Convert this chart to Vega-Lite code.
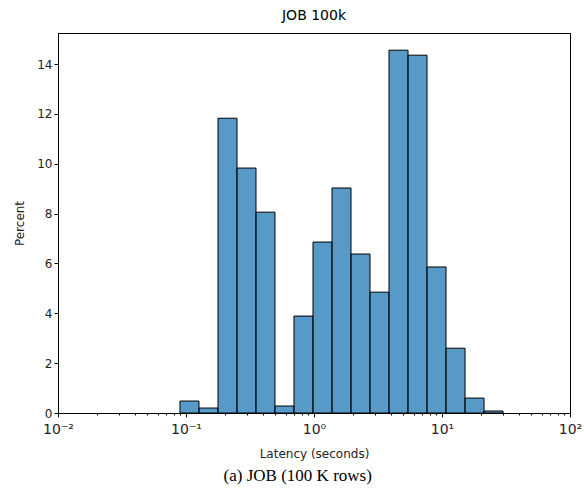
{
  "$schema": "https://vega.github.io/schema/vega-lite/v6.json",
  "background": "white",
  "padding": {"left": 13, "top": 8, "right": 10, "bottom": 5},
  "config": {"font": "DejaVu Sans", "concat": {"spacing": 0}},
  "title": {"text": "(a) JOB (100 K rows)", "orient": "bottom", "anchor": "middle", "font": "Liberation Serif", "fontSize": 17, "fontWeight": "normal", "color": "black", "offset": 8},
  "vconcat": [
    {
      "width": 512,
      "height": 380,
      "title": {"text": "JOB 100k", "font": "DejaVu Sans", "fontSize": 14, "fontWeight": "normal", "color": "black", "offset": 10},
      "view": {"stroke": "black", "strokeWidth": 1},
      "data": {"values": [
        {"lo": 0.0897, "hi": 0.1263, "pct": 0.48},
        {"lo": 0.1263, "hi": 0.1778, "pct": 0.2},
        {"lo": 0.1778, "hi": 0.2503, "pct": 11.83},
        {"lo": 0.2503, "hi": 0.3523, "pct": 9.83},
        {"lo": 0.3523, "hi": 0.4958, "pct": 8.06},
        {"lo": 0.4958, "hi": 0.6978, "pct": 0.28},
        {"lo": 0.6978, "hi": 0.9822, "pct": 3.89},
        {"lo": 0.9822, "hi": 1.3825, "pct": 6.86},
        {"lo": 1.3825, "hi": 1.946, "pct": 9.03},
        {"lo": 1.946, "hi": 2.739, "pct": 6.38},
        {"lo": 2.739, "hi": 3.855, "pct": 4.85},
        {"lo": 3.855, "hi": 5.427, "pct": 14.56},
        {"lo": 5.427, "hi": 7.638, "pct": 14.36},
        {"lo": 7.638, "hi": 10.75, "pct": 5.86},
        {"lo": 10.75, "hi": 15.14, "pct": 2.6},
        {"lo": 15.14, "hi": 21.3, "pct": 0.6},
        {"lo": 21.3, "hi": 29.99, "pct": 0.08}
      ]},
      "mark": {"type": "rect", "fill": "#1f77b4", "fillOpacity": 0.75, "stroke": "black", "strokeWidth": 1},
      "encoding": {
        "x": {
          "field": "lo", "type": "quantitative",
          "scale": {"type": "log", "domain": [0.01, 100], "nice": false},
          "axis": {
            "title": "Latency (seconds)",
            "titleFont": "DejaVu Sans", "titleFontSize": 12, "titleFontWeight": "normal", "titleColor": "#222", "titlePadding": 12,
            "values": [0.01,0.02,0.03,0.04,0.05,0.06,0.07,0.08,0.09,0.1,0.2,0.3,0.4,0.5,0.6,0.7,0.8,0.9,1,2,3,4,5,6,7,8,9,10,20,30,40,50,60,70,80,90,100],
            "labelExpr": "datum.value == 0.01 ? '10⁻²' : datum.value == 0.1 ? '10⁻¹' : datum.value == 1 ? '10⁰' : datum.value == 10 ? '10¹' : datum.value == 100 ? '10²' : ''",
            "labelFont": "DejaVu Sans", "labelFontSize": 14, "labelColor": "#222", "labelPadding": 5,
            "labelFlush": false, "labelOverlap": false,
            "tickColor": "black", "domainColor": "black", "grid": false,
            "tickSize": {"condition": {"test": "abs(log(datum.value)/LN10 - round(log(datum.value)/LN10)) < 0.000001", "value": 4}, "value": 2}
          }
        },
        "x2": {"field": "hi"},
        "y": {
          "field": "pct", "type": "quantitative",
          "scale": {"domain": [0, 15.25], "nice": false},
          "axis": {
            "title": "Percent", "titleFont": "DejaVu Sans", "titleFontSize": 12, "titleFontWeight": "normal", "titleColor": "#222", "titlePadding": 10,
            "values": [0,2,4,6,8,10,12,14], "labelFont": "DejaVu Sans", "labelFontSize": 12, "labelColor": "#222",
            "tickColor": "black", "tickSize": 4, "domainColor": "black", "grid": false
          }
        },
        "y2": {"datum": 0}
      }
    }
  ]
}
